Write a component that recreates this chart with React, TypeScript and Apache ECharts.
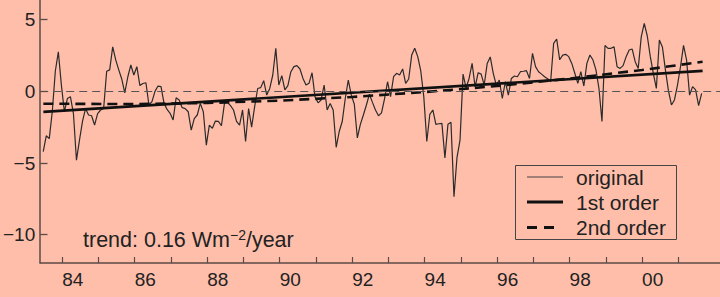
import React, { useEffect, useRef } from "react";
import * as echarts from "echarts";

// Monthly series, first month at START (years since 1900), one value per month
const START = 83.477;
const original = [
  -4.2, -3.1, -3.3, -1.4, 1.4, 2.75, 0.45, -1.42, -0.5, -0.37,
  -1.55, -4.8, -3.4, -2.1, -1.2, -1.65, -1.7, -2.35, -1.55, -1.3,
  -1.2, 1.4, 1.5, 3.1, 2.2, 1.5, 0.86, -0.1, 1.0, 1.84,
  1.14, 1.72, 0.4, 0.55, 0.6, -0.95, -0.72, 0.0, 0.37, 0.33,
  -0.84, -1.26, -1.53, -2.0, -0.45, -0.6, -1.14, -1.2, -1.42, -2.7,
  -1.9, -1.65, -0.84, -1.42, -3.75, -2.35, -2.58, -2.07, -2.1, -2.4,
  -0.84, -0.77, -1.0, -1.3, -2.1, -2.35, -1.3, -3.5, -1.2, -2.5,
  -1.07, 0.2, 0.26, 0.74, -0.26, 0.2, 1.14, 3.0, 0.44, 1.1,
  0.1, 0.4, 1.37, 1.72, 1.79, 1.56, 0.9, 0.44, 0.56, 1.3,
  -0.4, -0.8, -0.6, 0.44, -1.3, -0.84, -1.3, -3.9, -2.8, -2.1,
  -0.5, 0.79, -0.26, -0.9, -3.25, -2.3, -1.65, -0.95, -0.2, -0.77,
  -1.3, -1.7, -1.5, -0.53, 0.67, -0.37, 1.02, 1.26, 1.14, 1.56,
  0.56, 0.86, 2.53, 3.0, 2.42, 1.42, -0.37, -3.5, -1.6, -1.3,
  -2.3, -2.26, -2.23, -4.65, -2.3, -2.16, -7.35, -4.6, -3.4, 1.2,
  0.25, 0.9, 1.95, 0.3, 1.3, 1.2, 0.44, 1.95, 2.4, 1.26,
  0.44, 0.79, -0.5, 0.67, -0.26, 0.9, 1.07, 1.02, 1.37, 1.4,
  1.44, 0.9, 2.65, 1.72, 1.37, 1.2, 1.02, 0.88, 0.67, 3.35,
  3.65, 2.2, 2.53, 2.58, 2.42, 1.95, 1.26, 0.56, 1.37, 0.37,
  1.95, 2.53, 2.2, 1.5, 0.2, -2.1, 3.2, 3.0, 3.0, 3.1,
  1.72, 1.6, 1.79, 2.42, 2.88, 2.95, 2.07, 1.6, 3.8, 4.74,
  3.86, 2.42, 1.26, 0.2, 3.58, 3.1, 1.5, 0.05, -0.95, -0.6,
  0.44, 1.72, 3.2, 2.2, -0.26, 0.33, 0.1, -1.0, -0.14,
];

// 1st order trend (read at both ends)
const trend1Years = [83.48, 101.67];
const trend1Values = [-1.43, 1.43];

// 2nd order trend (read at several years)
const trend2Years = [83.48, 86, 88, 90, 92, 94, 96, 98, 100, 101.67];
const trend2Values = [-0.86, -0.89, -0.81, -0.65, -0.39, -0.05, 0.37, 0.89, 1.49, 2.06];

const xTickValues = [84, 85, 86, 87, 88, 89, 90, 91, 92, 93, 94, 95, 96, 97, 98, 99, 100, 101];
const xLabelValues = [84, 86, 88, 90, 92, 94, 96, 98, 100];
const yTickValues = [-10, -5, 0, 5];

const legendLabels = ["original", "1st order", "2nd order"];
const trendText = ["trend: 0.16 Wm", "\u22122", "/year"];

const BG = "#FFBEAA";
const AXIS = "#5b4b47";
const FONT = "'Liberation Sans', Arial, Helvetica, sans-serif";
const X_MIN = 83.394;
const X_MAX = 102.15;
const Y_TICK_LEN = 0.2; // in years along x (about 7 px)

export default function App() {
  const ref = useRef<HTMLDivElement>(null);

  useEffect(() => {
    if (!ref.current) return;
    const chart = echarts.init(ref.current, undefined, { renderer: "svg" });

    const origData = original.map((v, i) => [START + i / 12, v]);
    const t1 = trend1Years.map((x, i) => [x, trend1Values[i]]);
    const t2 = trend2Years.map((x, i) => [x, trend2Values[i]]);

    const lx0 = 527;
    const lx1 = 563;
    const rows = [177, 202, 227.5];

    chart.setOption({
      animation: false,
      backgroundColor: BG,
      textStyle: { fontFamily: FONT },
      grid: { left: 39, right: 0, top: 0, bottom: 34, containLabel: false },
      xAxis: {
        type: "value",
        min: X_MIN,
        max: X_MAX,
        splitLine: { show: false },
        axisLine: { show: true, onZero: false, lineStyle: { color: AXIS, width: 1.5 } },
        axisTick: {
          show: true,
          inside: true,
          length: 6,
          customValues: xTickValues,
          lineStyle: { color: AXIS, width: 1.2 },
        },
        axisLabel: {
          show: true,
          customValues: xLabelValues,
          align: "left",
          margin: 7,
          fontSize: 19,
          fontFamily: FONT,
          color: "#222",
          formatter: (v: number) => String(Math.round(v) % 100).padStart(2, "0"),
        },
      },
      yAxis: {
        type: "value",
        min: -11.97,
        max: 6.37,
        splitLine: { show: false },
        axisLine: { show: true, onZero: false, lineStyle: { color: AXIS, width: 1.5 } },
        axisTick: { show: false },
        axisLabel: {
          show: true,
          customValues: yTickValues,
          margin: 5,
          fontSize: 19,
          fontFamily: FONT,
          color: "#222",
          formatter: (v: number) => (v < 0 ? "\u2212" + Math.abs(v) : String(v)),
        },
      },
      series: [
        {
          type: "line",
          data: origData,
          showSymbol: false,
          symbol: "none",
          lineStyle: { color: "#2b2b2b", width: 1.2 },
          z: 3,
          markLine: {
            silent: true,
            symbol: ["none", "none"],
            label: { show: false },
            lineStyle: { color: "#555", width: 1, type: [8, 5] },
            data: [{ yAxis: 0 }],
          },
        },
        {
          type: "line",
          data: t1,
          showSymbol: false,
          symbol: "none",
          lineStyle: { color: "#111", width: 2.6 },
          z: 4,
          markLine: {
            silent: true,
            symbol: ["none", "none"],
            label: { show: false },
            lineStyle: { color: AXIS, width: 1.3, type: "solid" },
            data: yTickValues.map((v) => [
              { coord: [X_MIN, v] },
              { coord: [X_MIN + Y_TICK_LEN, v] },
            ]),
          },
        },
        {
          type: "line",
          data: t2,
          showSymbol: false,
          symbol: "none",
          lineStyle: { color: "#111", width: 2.6, type: [10, 6] },
          z: 4,
        },
      ],
      graphic: [
        {
          type: "rect",
          shape: { x: 515.5, y: 165.5, width: 161, height: 74 },
          style: { fill: "none", stroke: "#444", lineWidth: 1 },
          z: 10,
        },
        {
          type: "line",
          shape: { x1: lx0, y1: rows[0], x2: lx1, y2: rows[0] },
          style: { stroke: "#444", lineWidth: 1.2 },
          z: 10,
        },
        {
          type: "line",
          shape: { x1: lx0, y1: rows[1], x2: lx1, y2: rows[1] },
          style: { stroke: "#111", lineWidth: 2.8 },
          z: 10,
        },
        {
          type: "line",
          shape: { x1: lx0, y1: rows[2], x2: lx0 + 29, y2: rows[2] },
          style: { stroke: "#111", lineWidth: 2.8, lineDash: [10, 7] },
          z: 10,
        },
        ...legendLabels.map((t, i) => ({
          type: "text",
          x: 576,
          y: rows[i],
          style: {
            text: t,
            fill: "#222",
            fontSize: 21,
            fontFamily: FONT,
            verticalAlign: "middle",
            align: "left",
          },
          z: 10,
        })),
        {
          type: "text",
          x: 83,
          y: 239.5,
          style: {
            text: `{a|${trendText[0]}}{s|${trendText[1]}}{a|${trendText[2]}}`,
            verticalAlign: "middle",
            align: "left",
            fill: "#222",
            rich: {
              a: { fontSize: 21.5, fontFamily: FONT, fill: "#222", lineHeight: 24 },
              s: { fontSize: 14, fontFamily: FONT, fill: "#222", lineHeight: 14, verticalAlign: "top" },
            },
          },
          z: 10,
        },
      ],
    });

    return () => {
      chart.dispose();
    };
  }, []);

  return (
    <div
      ref={ref}
      style={{ position: "absolute", left: 0, top: 0, width: 720, height: 297, background: BG }}
    />
  );
}
